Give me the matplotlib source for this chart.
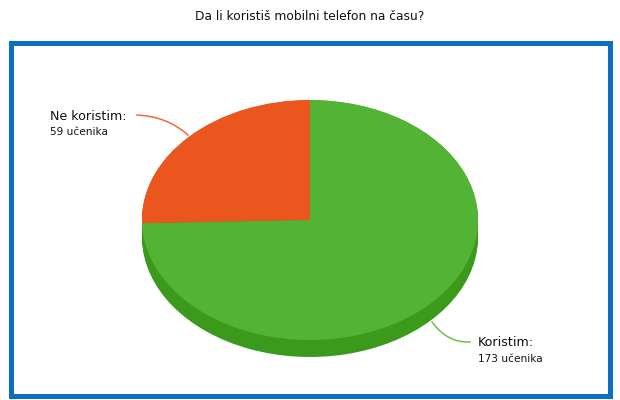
import numpy as np
import matplotlib
matplotlib.use("Agg")
import matplotlib.pyplot as plt
from matplotlib.patches import Rectangle

title = "Da li koristiš mobilni telefon na času?"
labels = ["Ne koristim:", "Koristim:"]
values = [59, 173]
counts = ["59 učenika", "173 učenika"]
top_colors = ["#eb561e", "#52b335"]
side_colors = ["#c9431a", "#3b9a1c"]
line_colors = ["#f06a3a", "#6cc24a"]

W, H = 620, 400
cx, cy = 310, 220      # pie centre in pixels (from top)
rx, ry = 168, 120      # ellipse radii in pixels
depth = 17

fig = plt.figure(figsize=(W / 100, H / 100), dpi=100)

# pixel axes for frame, text and leader lines
ax = fig.add_axes([0, 0, 1, 1])
ax.set_xlim(0, W)
ax.set_ylim(H, 0)
ax.axis("off")

ax.add_patch(Rectangle((10.5, 42.5), 599, 353, fill=False,
                       edgecolor="#0a6fc2", linewidth=3.6, zorder=1))
ax.text(W / 2, 16, title, ha="center", va="center", fontsize=8.8,
        color="#111111")

# pie axes, stretched so the unit circle becomes an ellipse
pax = fig.add_axes([0, 0, 1, 1])
pax.patch.set_alpha(0)
sd = depth / ry
for k in np.linspace(sd, 0.002, 12):
    pax.pie(values, colors=side_colors, startangle=90, counterclock=True,
            center=(0, -k), radius=1.0, frame=True,
            wedgeprops=dict(linewidth=0))
pax.pie(values, colors=top_colors, startangle=90, counterclock=True,
        center=(0, 0), radius=1.0, frame=True,
        wedgeprops=dict(linewidth=0))
pax.set_aspect("auto")
pax.set_xlim(-cx / rx, (W - cx) / rx)
pax.set_ylim(-(H - cy) / ry, cy / ry)
pax.axis("off")

# leader lines
t = np.linspace(0, 1, 30)
lx = 137 + 51 * t
ly = 115 + 4 * t + 16 * t ** 2.5
ax.plot(lx, ly, color=line_colors[0], linewidth=1.1)
gx = 432 + 38 * t
gy = 322 + 20 * (1 - (1 - t) ** 2.5)
ax.plot(gx, gy, color=line_colors[1], linewidth=1.1)

ax.text(50, 116, labels[0], ha="left", va="center", fontsize=9.1, color="#111111")
ax.text(50, 132, counts[0], ha="left", va="center", fontsize=7.6, color="#111111")
ax.text(478, 343, labels[1], ha="left", va="center", fontsize=9.1, color="#111111")
ax.text(478, 359, counts[1], ha="left", va="center", fontsize=7.6, color="#111111")

fig.savefig("out.png", dpi=100)
